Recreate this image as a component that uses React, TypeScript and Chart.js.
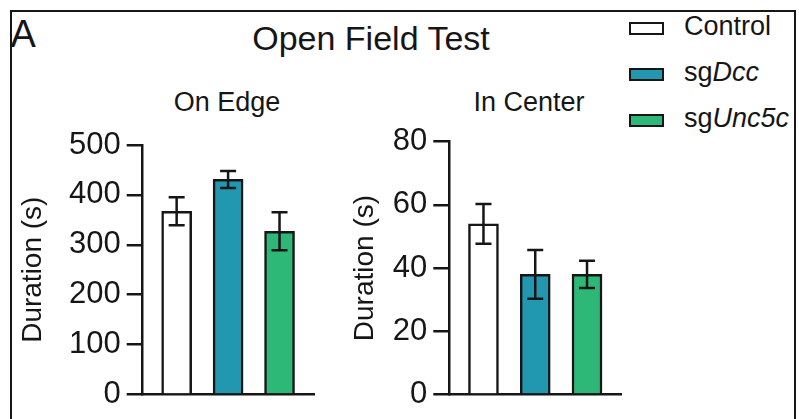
import React, { useEffect, useRef } from "react";
import { Chart, registerables } from "chart.js";

Chart.register(...registerables);

// ---------- data ----------
const categories = ["Control", "sgDcc", "sgUnc5c"];
const barColors = ["#ffffff", "#2298b0", "#2db877"];

const edgeMeans = [367, 431, 327];
const edgeErrors = [28, 17, 38];
const edgeTicks = [0, 100, 200, 300, 400, 500];

const centerMeans = [54, 38, 38];
const centerErrors = [6.3, 7.7, 4.3];
const centerTicks = [0, 20, 40, 60, 80];

const panelTitles = ["On Edge", "In Center"];
const yAxisTitle = "Duration (s)";
const figureTitle = "Open Field Test";
const panelLetter = "A";

const FONT = "'Liberation Sans', Arial, Helvetica, sans-serif";
const INK = "#161616";

function makeErrorBarPlugin(errors: number[], cap: number) {
  return {
    id: "errorBars",
    afterDatasetsDraw(chart: any) {
      const { ctx, scales } = chart;
      const xs = scales.x;
      const ys = scales.y;
      const pts = chart.data.datasets[0].data as { x: number; y: number }[];
      ctx.save();
      ctx.strokeStyle = INK;
      ctx.lineWidth = 2.5;
      ctx.lineCap = "butt";
      pts.forEach((pt, i) => {
        const x = xs.getPixelForValue(pt.x);
        const yTop = ys.getPixelForValue(pt.y + errors[i]);
        const yBot = ys.getPixelForValue(pt.y - errors[i]);
        ctx.beginPath();
        ctx.moveTo(x, yTop);
        ctx.lineTo(x, yBot);
        ctx.moveTo(x - cap / 2, yTop);
        ctx.lineTo(x + cap / 2, yTop);
        ctx.moveTo(x - cap / 2, yBot);
        ctx.lineTo(x + cap / 2, yBot);
        ctx.stroke();
      });
      ctx.restore();
    },
  };
}

type PanelProps = {
  left: number;
  top: number;
  width: number;
  height: number;
  padding: { top: number; right: number; bottom: number; left: number };
  axisWidth: number;
  titlePad: number;
  means: number[];
  errors: number[];
  ticks: number[];
};

function Panel(p: PanelProps) {
  const ref = useRef<HTMLCanvasElement | null>(null);
  useEffect(() => {
    if (!ref.current) return;
    const yMax = p.ticks[p.ticks.length - 1];
    const yStep = p.ticks[1] - p.ticks[0];
    const chart = new Chart(ref.current, {
      type: "bar",
      data: {
        labels: categories,
        datasets: [
          {
            data: p.means.map((m, i) => ({ x: i + 1, y: m })),
            backgroundColor: barColors,
            borderColor: INK,
            borderWidth: 2.5,
            borderSkipped: "start",
            barThickness: 30,
          } as any,
        ],
      },
      options: {
        responsive: false,
        maintainAspectRatio: false,
        animation: false,
        layout: { padding: p.padding },
        plugins: {
          legend: { display: false },
          tooltip: { enabled: false },
          title: { display: false },
        },
        scales: {
          x: {
            type: "linear",
            offset: false,
            min: 0.34,
            max: 3.67,
            ticks: { display: false },
            grid: { display: false, drawTicks: false, offset: false },
            border: { display: true, width: 2.5, color: INK },
            afterFit: (s: any) => {
              s.height = 0;
            },
          },
          y: {
            min: 0,
            max: yMax,
            ticks: {
              stepSize: yStep,
              padding: 6,
              color: INK,
              font: { family: FONT, size: 31 },
            },
            grid: {
              drawOnChartArea: false,
              drawTicks: true,
              tickLength: 16,
              lineWidth: 2.5,
              color: INK,
            },
            border: { display: true, width: 2.5, color: INK },
            title: {
              display: true,
              text: yAxisTitle,
              color: INK,
              font: { family: FONT, size: 28 },
              padding: { top: p.titlePad, bottom: 0 },
            },
            afterFit: (s: any) => {
              s.width = p.axisWidth;
            },
          },
        },
      } as any,
      plugins: [makeErrorBarPlugin(p.errors, 16)],
    });
    return () => chart.destroy();
  }, []);
  return (
    <canvas
      ref={ref}
      width={p.width}
      height={p.height}
      style={{ position: "absolute", left: p.left, top: p.top, width: p.width, height: p.height }}
    />
  );
}

function Text(props: {
  x: number;
  baseline: number;
  size: number;
  align?: "left" | "center";
  children: React.ReactNode;
}) {
  const { x, baseline, size, align = "left", children } = props;
  const top = baseline - 0.8465 * size;
  const style: React.CSSProperties = {
    position: "absolute",
    top,
    fontFamily: FONT,
    fontSize: size,
    lineHeight: 1,
    color: INK,
    whiteSpace: "nowrap",
  };
  if (align === "center") {
    style.left = x - 200;
    style.width = 400;
    style.textAlign = "center";
  } else {
    style.left = x;
  }
  return <div style={style}>{children}</div>;
}

const legendItems = [
  { color: barColors[0], plain: "Control", italic: "" },
  { color: barColors[1], plain: "sg", italic: "Dcc" },
  { color: barColors[2], plain: "sg", italic: "Unc5c" },
];
const legendBaselines = [36, 82, 128];

export default function App() {
  return (
    <div
      style={{
        position: "fixed",
        left: 0,
        top: 0,
        width: 799,
        height: 419,
        overflow: "hidden",
        background: "#ffffff",
      }}
    >
      <div
        style={{
          position: "absolute",
          left: 10,
          top: 10,
          width: 786,
          height: 460,
          border: `2px solid ${INK}`,
          boxSizing: "border-box",
        }}
      />
      <Text x={10.5} baseline={46.7} size={38}>
        {panelLetter}
      </Text>
      <Text x={371} baseline={50} size={34} align="center">
        {figureTitle}
      </Text>
      <Text x={227} baseline={111.7} size={27} align="center">
        {panelTitles[0]}
      </Text>
      <Text x={529} baseline={111.7} size={27} align="center">
        {panelTitles[1]}
      </Text>

      {legendItems.map((it, i) => (
        <React.Fragment key={i}>
          <div
            style={{
              position: "absolute",
              left: 628.5,
              top: legendBaselines[i] - 14.5,
              width: 35,
              height: 13,
              background: it.color,
              border: `2.5px solid ${INK}`,
              boxSizing: "border-box",
            }}
          />
          <Text x={684} baseline={legendBaselines[i]} size={27}>
            {it.plain}
            {it.italic ? <i>{it.italic}</i> : null}
          </Text>
        </React.Fragment>
      ))}

      <Panel
        left={0}
        top={100}
        width={330}
        height={319}
        padding={{ top: 45, right: 16, bottom: 17.3, left: 0 }}
        axisWidth={142.7}
        titlePad={16}
        means={edgeMeans}
        errors={edgeErrors}
        ticks={edgeTicks}
      />
      <Panel
        left={330}
        top={100}
        width={300}
        height={319}
        padding={{ top: 41.7, right: 8.3, bottom: 18.5, left: 0 }}
        axisWidth={119.3}
        titlePad={18}
        means={centerMeans}
        errors={centerErrors}
        ticks={centerTicks}
      />
    </div>
  );
}
